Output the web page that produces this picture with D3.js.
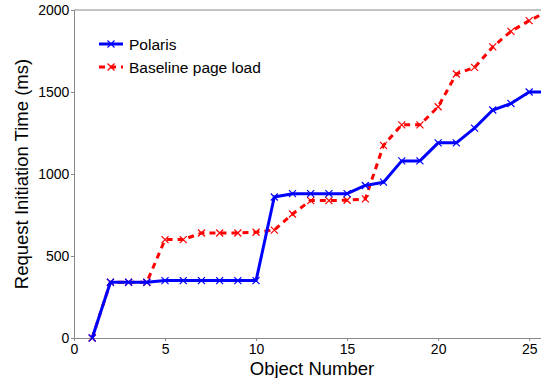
<!DOCTYPE html>
<html>
<head>
<meta charset="utf-8">
<script src="https://cdn.jsdelivr.net/npm/d3@7"></script>
<style>
body { margin: 0; background: #fff; }
svg { font-family: "Liberation Sans", Arial, sans-serif; }
</style>
</head>
<body>
<main></main>
<script>
const width = 541;
const height = 378;
const margin = {top: 10, right: 0, bottom: 40, left: 74};

// object numbers and request times (ms)
const objects = [1, 2, 3, 4, 5, 6, 7, 8, 9, 10, 11, 12, 13, 14, 15, 16, 17, 18, 19, 20, 21, 22, 23, 24, 25, 26];
const polaris = [0, 340, 340, 340, 350, 350, 350, 350, 350, 350, 860, 880, 880, 880, 880, 930, 950, 1080, 1080, 1190, 1190, 1280, 1390, 1430, 1500, 1500];
const baseline = [0, 340, 340, 340, 600, 600, 640, 640, 640, 645, 658, 756, 838, 838, 840, 848, 1175, 1300, 1300, 1410, 1610, 1650, 1775, 1870, 1935, 1990];
const xTicks = [0, 5, 10, 15, 20, 25];
const yTicks = [0, 500, 1000, 1500, 2000];

const series = [
    {name: 'Polaris', values: polaris, color: '#0000ff', dash: null},
    {name: 'Baseline page load', values: baseline, color: '#ff0000', dash: '6,5'}
];

const createCanvas = () => {
    return d3.select('main')
             .append('svg')
             .attr('width', width)
             .attr('height', height);
};

const defineScales = () => {
    const xScale = d3.scaleLinear().domain([0, 25.65])
                     .range([margin.left, width - margin.right]);
    const yScale = d3.scaleLinear().domain([0, 2000])
                     .range([height - margin.bottom, margin.top]);
    return {xScale, yScale};
};

const createAxis = (scales, svg) => {
    const xAxis = svg.append('g')
       .attr('transform', 'translate(0,' + (height - margin.bottom) + ')')
       .call(d3.axisBottom(scales.xScale).tickValues(xTicks).tickFormat(d3.format('d')).tickSize(3).tickSizeOuter(0));
    const yAxis = svg.append('g')
       .attr('transform', 'translate(' + margin.left + ',0)')
       .call(d3.axisLeft(scales.yScale).tickValues(yTicks).tickFormat(d3.format('d')).tickSize(3).tickSizeOuter(0));
    [xAxis, yAxis].forEach(a => {
        a.selectAll('path, line').attr('stroke', '#888');
        a.selectAll('text').attr('fill', '#000').style('font-size', '14px')
         .style('font-family', '"Liberation Sans", Arial, sans-serif');
    });
    xAxis.selectAll('text').attr('dy', '0.72em');
    yAxis.selectAll('text').attr('dx', '0.1em');

    // top frame line
    svg.append('line')
       .attr('x1', margin.left).attr('x2', width)
       .attr('y1', margin.top).attr('y2', margin.top)
       .attr('stroke', '#888');

    svg.append('text')
       .attr('x', 312).attr('y', 375)
       .attr('text-anchor', 'middle')
       .style('font-size', '18.5px')
       .text('Object Number');
    svg.append('text')
       .attr('transform', 'translate(28,' + ((height - margin.bottom + margin.top) / 2) + ') rotate(-90)')
       .attr('text-anchor', 'middle')
       .style('font-size', '18.5px')
       .text('Request Initiation Time (ms)');
};

const drawMarker = (g, x, y, color, s) => {
    g.append('path')
     .attr('d', `M${x - s},${y - s}L${x + s},${y + s}M${x - s},${y + s}L${x + s},${y - s}`)
     .attr('stroke', color)
     .attr('stroke-width', 1.2)
     .attr('fill', 'none');
};

const createLines = (scales, svg) => {
    svg.append('clipPath').attr('id', 'clip')
       .append('rect')
       .attr('x', margin.left).attr('y', 0)
       .attr('width', width - margin.left)
       .attr('height', height - margin.bottom + 4);

    const plot = svg.append('g').attr('clip-path', 'url(#clip)');
    const line = d3.line()
                   .x((d, i) => scales.xScale(objects[i]))
                   .y(d => scales.yScale(d));

    series.slice().reverse().forEach(s => {
        plot.append('path')
            .datum(s.values)
            .attr('d', line)
            .attr('fill', 'none')
            .attr('stroke', s.color)
            .attr('stroke-width', 3)
            .attr('stroke-linejoin', 'round')
            .attr('stroke-dasharray', s.dash);
        s.values.forEach((v, i) => {
            drawMarker(plot, scales.xScale(objects[i]), scales.yScale(v), s.color, 3.5);
        });
    });
};

const createLegend = (svg) => {
    series.forEach((s, i) => {
        const y = 44 + i * 23;
        svg.append('line')
           .attr('x1', 99).attr('x2', 123)
           .attr('y1', y).attr('y2', y)
           .attr('stroke', s.color)
           .attr('stroke-width', 3)
           .attr('stroke-dasharray', s.dash);
        drawMarker(svg, 111, y, s.color, 3.5);
        svg.append('text')
           .attr('x', 129).attr('y', y + 5.5)
           .style('font-size', '15.5px')
           .text(s.name);
    });
};

const driver = () => {
    const svg = createCanvas();
    const scales = defineScales();
    createAxis(scales, svg);
    createLines(scales, svg);
    createLegend(svg);
};

driver();
</script>
</body>
</html>
